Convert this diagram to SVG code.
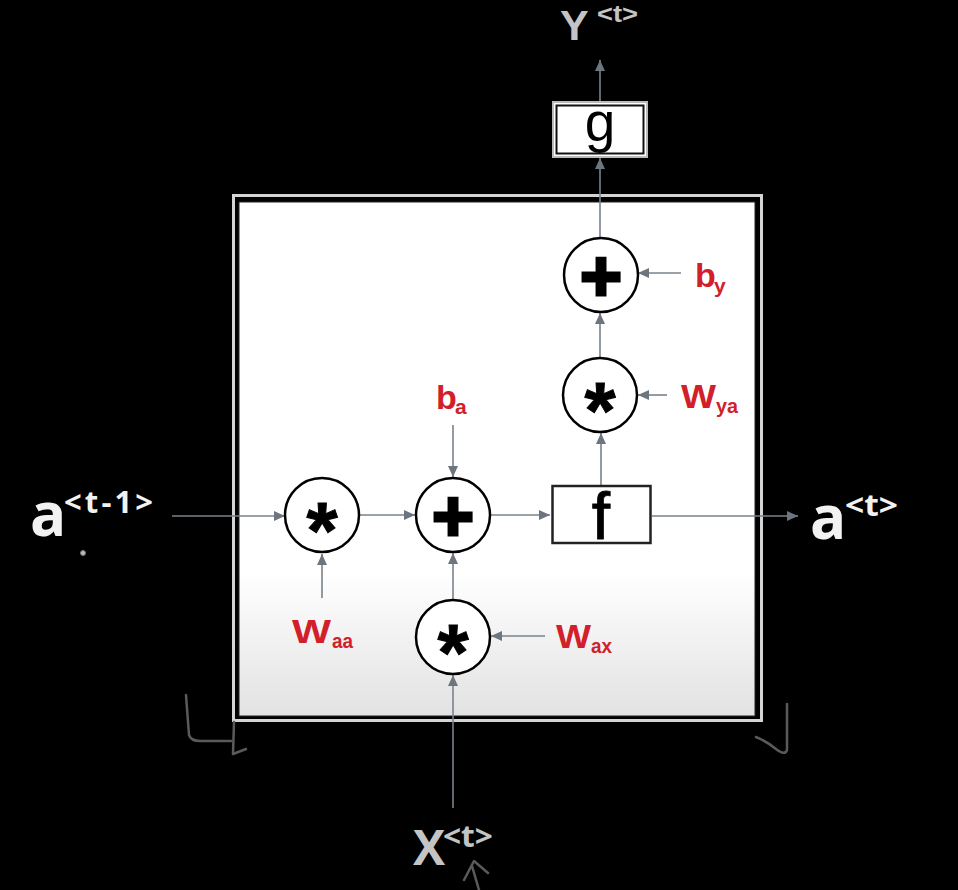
<svg xmlns="http://www.w3.org/2000/svg" width="958" height="890" viewBox="0 0 958 890">
<defs>
<linearGradient id="boxg" x1="0" y1="0" x2="0" y2="1">
<stop offset="0" stop-color="#ffffff"/>
<stop offset="0.72" stop-color="#ffffff"/>
<stop offset="1" stop-color="#e2e2e2"/>
</linearGradient>
<marker id="ah" markerUnits="userSpaceOnUse" markerWidth="12" markerHeight="12" refX="11" refY="6" orient="auto">
<path d="M0,1 L11,6 L0,11 z" fill="#6d757e"/>
</marker>
<style>
.con{stroke:#7a828b;stroke-width:1.6;fill:none;marker-end:url(#ah)}
.op{fill:#fff;stroke:#000;stroke-width:2.5}
.sym{font-family:"Liberation Sans",Arial,sans-serif;font-weight:bold;fill:#000;text-anchor:middle}
.red{font-family:"Liberation Sans",Arial,sans-serif;font-weight:bold;fill:#d1202a}
.big{font-family:"Open Sans","Noto Sans",sans-serif;font-weight:bold}
.hand{fill:none;stroke:#5a5a5a;stroke-width:2.5;stroke-linecap:round;stroke-linejoin:round}
</style>
</defs>
<rect width="958" height="890" fill="#000"/>
<g id="cell">
<rect x="233.5" y="195.5" width="528" height="525" fill="none" stroke="#d4d4d4" stroke-width="3"/>
<rect x="239" y="202" width="516" height="514" fill="url(#boxg)" stroke="#222" stroke-width="1"/>
</g>
<g id="connectors">
<path class="con" d="M172,516 L285,516"/>
<path class="con" d="M359,515 L415,515"/>
<path class="con" d="M491,515 L550,515"/>
<path class="con" d="M652,516 L798,516"/>
<path class="con" d="M453,808 L453,675"/>
<path class="con" d="M453,600 L453,553"/>
<path class="con" d="M453,425 L453,477"/>
<path class="con" d="M322,598 L322,554"/>
<path class="con" d="M545,636 L491,636"/>
<path class="con" d="M601,485 L601,433"/>
<path class="con" d="M667,395 L638,395"/>
<path class="con" d="M600,358 L600,313"/>
<path class="con" d="M681,273 L638,273"/>
<path class="con" d="M600,238 L600,158"/>
<path class="con" d="M600,102 L600,60"/>
</g>
<g id="mul1"><circle class="op" cx="322" cy="515" r="37"/><text class="sym" x="322" y="558" font-size="80" stroke="#000" stroke-width="1">*</text></g>
<g id="add1"><circle class="op" cx="453" cy="515" r="37"/><text class="sym" x="453" y="541" font-size="72" stroke="#000" stroke-width="3">+</text></g>
<g id="mul2"><circle class="op" cx="453" cy="637" r="37"/><text class="sym" x="453" y="680" font-size="80" stroke="#000" stroke-width="1">*</text></g>
<g id="mul3"><circle class="op" cx="600" cy="395" r="37"/><text class="sym" x="600" y="438" font-size="80" stroke="#000" stroke-width="1">*</text></g>
<g id="add2"><circle class="op" cx="601" cy="275" r="37"/><text class="sym" x="601" y="301" font-size="72" stroke="#000" stroke-width="3">+</text></g>
<g id="f">
<rect x="552.5" y="486" width="98" height="57" fill="#fff" stroke="#222" stroke-width="2.5"/>
<text x="601" y="539" font-family="'Liberation Sans',Arial,sans-serif" font-size="66" text-anchor="middle" fill="#000" stroke="#000" stroke-width="0.8">f</text>
</g>
<g id="g">
<rect x="553" y="102" width="94" height="55" fill="#fff" stroke="#bbb" stroke-width="2"/>
<rect x="556.5" y="105.5" width="87" height="48" fill="#fff" stroke="#111" stroke-width="2"/>
<text x="600" y="141" font-family="'Liberation Sans',Arial,sans-serif" font-size="55" text-anchor="middle" fill="#000">g</text>
</g>
<g id="Y">
<text x="560" y="40" font-family="'Liberation Sans',Arial,sans-serif" font-weight="bold" font-size="43" fill="#c4c4c4">Y</text>
<text x="597" y="22" font-family="'Liberation Sans',Arial,sans-serif" font-weight="bold" font-size="23" fill="#c4c4c4" textLength="41" lengthAdjust="spacingAndGlyphs">&lt;t&gt;</text>
</g>
<g id="X">
<text class="big" x="413" y="865" font-size="48" fill="#c4c4c4">X</text>
<text class="big" x="443" y="847" font-size="30" fill="#c4c4c4" textLength="50" lengthAdjust="spacingAndGlyphs">&lt;t&gt;</text>
</g>
<g id="a_prev">
<text class="big" x="30" y="536" font-size="60" fill="#f2f2f2">a</text>
<text class="big" x="64" y="513" font-size="31" fill="#f2f2f2" textLength="89" lengthAdjust="spacing">&lt;t-1&gt;</text>
</g>
<g id="a_next">
<text class="big" x="810" y="539" font-size="60" fill="#f2f2f2">a</text>
<text class="big" x="845" y="516" font-size="31" fill="#f2f2f2" textLength="53" lengthAdjust="spacingAndGlyphs">&lt;t&gt;</text>
</g>
<g id="by"><text class="red" x="695" y="287" font-size="34">b</text><text class="red" x="714" y="293" font-size="21">y</text></g>
<g id="ba"><text class="red" x="436" y="409" font-size="34">b</text><text class="red" x="455" y="414" font-size="21">a</text></g>
<g id="Wya"><text class="red" x="681" y="408" font-size="34" textLength="35" lengthAdjust="spacingAndGlyphs">W</text><text class="red" x="716" y="413" font-size="21" textLength="22" lengthAdjust="spacingAndGlyphs">ya</text></g>
<g id="Waa"><text class="red" x="292" y="643" font-size="34" textLength="39" lengthAdjust="spacingAndGlyphs">W</text><text class="red" x="332" y="648" font-size="21" textLength="21" lengthAdjust="spacingAndGlyphs">aa</text></g>
<g id="Wax"><text class="red" x="556" y="648" font-size="34" textLength="35" lengthAdjust="spacingAndGlyphs">W</text><text class="red" x="591" y="653" font-size="21" textLength="21" lengthAdjust="spacingAndGlyphs">ax</text></g>
<g id="marks">
<path class="hand" d="M186,695 L189,735 Q191,741 200,741 L231,741"/>
<path class="hand" d="M234,722 L233,754 L246,749"/>
<path class="hand" d="M787,704 L787,750 Q785,756 776,749 Q766,741 756,737"/>
<path class="hand" d="M464,880 L474,861 L488,873 M472,866 L479,890"/>
<circle cx="83" cy="553" r="2.5" fill="#bbb" stroke="#777" stroke-width="1"/>
</g>
</svg>
